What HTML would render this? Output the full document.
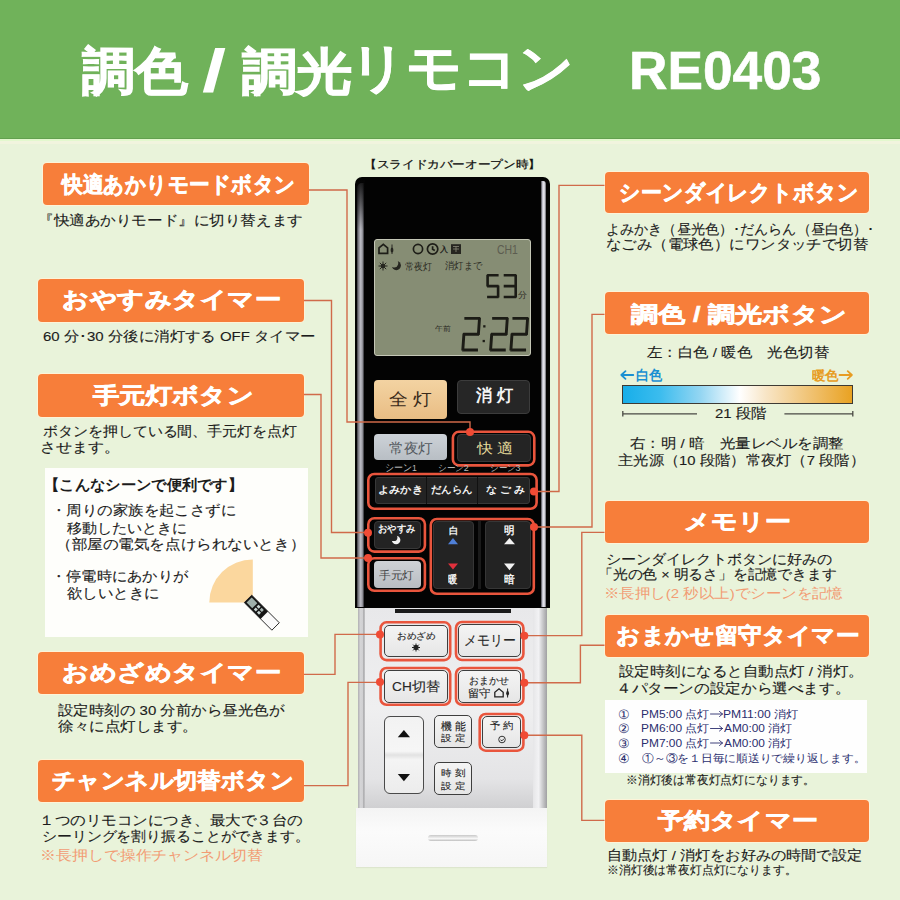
<!DOCTYPE html>
<html><head><meta charset="utf-8"><style>
html,body{margin:0;padding:0;}
body{width:900px;height:900px;overflow:hidden;position:relative;background:#e9f3da;font-family:"Liberation Sans",sans-serif;}
.t{position:absolute;line-height:1;white-space:pre;transform-origin:0 0;}
.a{position:absolute;box-sizing:border-box;}

.ob{background:#f77e3a;border-radius:4px;box-shadow:0 0 0 1px rgba(255,243,215,0.9);}
.btn{border-radius:5px;}

</style></head><body>
<div class="a" style="left:0px;top:0px;width:900.00px;height:139.00px;background:#70b25a;"></div>
<div class="a" style="left:0px;top:137.5px;width:900.00px;height:1.50px;background:#62a04f;"></div>
<div class="a" style="left:0px;top:139px;width:900.00px;height:2.40px;background:#e3f8ce;"></div>
<div class="a" style="left:0px;top:141.4px;width:900.00px;height:2.60px;background:#f1f4de;"></div>
<div class="a ob" style="left:38.3px;top:279.3px;width:265.70px;height:42.40px;"></div>
<div class="a ob" style="left:38.3px;top:374.3px;width:265.70px;height:42.40px;"></div>
<div class="a ob" style="left:38.3px;top:651.7px;width:265.70px;height:42.30px;"></div>
<div class="a ob" style="left:38.3px;top:760px;width:265.70px;height:41.70px;"></div>
<div class="a ob" style="left:43px;top:162.8px;width:265.80px;height:42.40px;"></div>
<div class="a ob" style="left:604.5px;top:171.7px;width:264.50px;height:41.80px;"></div>
<div class="a ob" style="left:604.5px;top:292.3px;width:264.50px;height:42.20px;"></div>
<div class="a ob" style="left:604.5px;top:500.7px;width:264.50px;height:42.00px;"></div>
<div class="a ob" style="left:604.5px;top:615px;width:264.50px;height:41.50px;"></div>
<div class="a ob" style="left:604.5px;top:800px;width:264.50px;height:41.70px;"></div>
<div class="a" style="left:44.7px;top:468px;width:263.10px;height:169.00px;background:#fefefb;"></div>
<div class="a" style="left:605px;top:700px;width:261.70px;height:73.30px;background:#fefefe;"></div>
<div class="a" style="left:621.7px;top:384.5px;width:231.80px;height:19.00px;background:linear-gradient(90deg,#17aee9 0%,#3bbcee 16%,#95d6f2 34%,#ffffff 51%,#f8e6c8 62%,#f0c272 82%,#e9a222 100%);border:1.2px solid #3e3a34;"></div>
<svg class="a" style="left:0;top:0" width="900" height="900" viewBox="0 0 900 900">
<g stroke="#4a4a44" stroke-width="1.3" fill="none">
<path d="M622.5 413.8H697M784.4 413.8H853M622.8 411V416.6M852.8 411V416.6"/>
</g></svg>
<svg class="a" style="left:0;top:0" width="900" height="900" viewBox="0 0 900 900">
<path d="M252.8 602.4 L209.3 602.4 A43.5 43 0 0 1 252.8 559.4 Z" fill="#fbd79e"/>
<g transform="translate(248,598.9) rotate(-45)">
<rect x="-5.25" y="0" width="10.5" height="39" fill="#fafafa" stroke="#222" stroke-width="0.9"/>
<rect x="-5.25" y="0" width="10.5" height="23" fill="#141414"/>
<rect x="-3.6" y="1.6" width="7.2" height="8" fill="#9fb0ab"/>
<rect x="-3.4" y="11.5" width="2.8" height="3" fill="#c9d6d3"/><rect x="0.6" y="11.5" width="2.8" height="3" fill="#c9d6d3"/>
<rect x="-3.4" y="16" width="2.8" height="3" fill="#c9d6d3"/><rect x="0.6" y="16" width="2.8" height="3" fill="#a9b6b3"/>
</g>
</svg>
<div class="a" style="left:355.3px;top:177px;width:194.70px;height:431.00px;background:#030303;border-radius:7px 7px 0 0;"></div>
<div class="a" style="left:357px;top:183px;width:7.00px;height:424.00px;background:linear-gradient(90deg,#3a3a40 0%,#8c8c94 25%,#b8b8c0 50%,#a0a0a8 75%,#2a2a2e 100%);border-radius:5px 0 0 0;"></div>
<div class="a" style="left:356.5px;top:180px;width:8.00px;height:50.00px;background:linear-gradient(180deg,rgba(5,5,5,0.92) 0%,rgba(5,5,5,0.5) 50%,rgba(5,5,5,0) 100%);border-radius:5px 0 0 0;"></div>
<div class="a" style="left:540.5px;top:181px;width:5.70px;height:426.00px;background:linear-gradient(90deg,#3a3a40 0%,#b8b8c4 25%,#e8e8f0 55%,#c0c0c8 80%,#4a4a50 100%);border-radius:0 3px 0 0;"></div>
<div class="a" style="left:373.7px;top:238.7px;width:157.70px;height:117.30px;background:#868d74;border:1.5px solid #c4c6b6;border-radius:3px;"></div>
<div class="a" style="left:374.4px;top:380px;width:72.30px;height:39.00px;background:linear-gradient(180deg,#f3d3a2,#e9bd84);border-radius:4px;"></div>
<div class="a" style="left:457px;top:380.4px;width:73.00px;height:33.60px;background:#262626;border:1px solid #3c3c3c;border-radius:4px;"></div>
<div class="a" style="left:374.4px;top:434.4px;width:72.60px;height:26.10px;background:linear-gradient(180deg,#cdd2d8,#b8bec4);border-radius:4px;"></div>
<div class="a" style="left:456.6px;top:434px;width:74.00px;height:27.70px;background:#242424;border:1px solid #383838;border-radius:4px;"></div>
<div class="a" style="left:375px;top:476.7px;width:155.00px;height:27.30px;background:#232323;border:1px solid #383838;border-radius:3px;"></div>
<div class="a" style="left:426px;top:477px;width:1.20px;height:26.50px;background:#111;"></div>
<div class="a" style="left:477px;top:477px;width:1.20px;height:26.50px;background:#111;"></div>
<div class="a" style="left:374px;top:520.5px;width:47.00px;height:28.50px;background:#232323;border:1px solid #383838;border-radius:4px;"></div>
<div class="a" style="left:374px;top:560.5px;width:47.00px;height:27.50px;background:linear-gradient(180deg,#cfd2d6,#b9bdc2);border-radius:4px;"></div>
<div class="a" style="left:432.5px;top:521px;width:41.50px;height:68.00px;background:#232323;border:1px solid #363636;border-radius:4px;"></div>
<div class="a" style="left:485px;top:521px;width:46.00px;height:68.00px;background:#232323;border:1px solid #363636;border-radius:4px;"></div>
<div class="a" style="left:478px;top:521px;width:3.00px;height:68.00px;background:#1a1a1a;"></div>
<div class="a" style="left:357.5px;top:607.5px;width:189.50px;height:201.00px;background:linear-gradient(180deg,#e8e8ea 0%,#efeff0 50%,#e4e4e6 85%,#cfcfd1 100%);"></div>
<div class="a" style="left:357.5px;top:607.5px;width:7.00px;height:201.00px;background:linear-gradient(90deg,#b0b0b2 0%,#d4d4d6 35%,#d0d0d2 70%,#9a9a9c 85%,#dcdcde 100%);"></div>
<div class="a" style="left:533px;top:607.5px;width:14.00px;height:201.00px;background:linear-gradient(90deg,#e6e6e8 0%,#f2f2f4 40%,#c8c8ca 70%,#a0a0a2 100%);"></div>
<div class="a" style="left:395px;top:608.5px;width:116.00px;height:4.50px;background:#1c1c1c;"></div>
<div class="a" style="left:384px;top:624.6px;width:63.80px;height:32.40px;background:linear-gradient(180deg,#f4f4f4,#e6e6e6);border:1.2px solid #3e3e3e;border-radius:5px;"></div>
<div class="a" style="left:458.4px;top:624px;width:62.60px;height:33.00px;background:linear-gradient(180deg,#f4f4f4,#e6e6e6);border:1.2px solid #3e3e3e;border-radius:5px;"></div>
<div class="a" style="left:384px;top:670px;width:63.80px;height:32.50px;background:linear-gradient(180deg,#f4f4f4,#e6e6e6);border:1.2px solid #3e3e3e;border-radius:5px;"></div>
<div class="a" style="left:458.4px;top:670px;width:62.60px;height:32.50px;background:linear-gradient(180deg,#f4f4f4,#e6e6e6);border:1.2px solid #3e3e3e;border-radius:5px;"></div>
<div class="a" style="left:384.4px;top:715.6px;width:39.50px;height:78.80px;background:linear-gradient(180deg,#f2f2f2 0%,#f6f6f6 45%,#e2e2e2 50%,#f4f4f4 56%,#ececec 100%);border:1px solid #4a4a4a;border-radius:6px;"></div>
<div class="a" style="left:434px;top:715.2px;width:38.00px;height:32.50px;background:linear-gradient(180deg,#f4f4f4,#e6e6e6);border:1.2px solid #3e3e3e;border-radius:5px;"></div>
<div class="a" style="left:482.3px;top:715.6px;width:38.70px;height:32.10px;background:linear-gradient(180deg,#f4f4f4,#e6e6e6);border:1.2px solid #3e3e3e;border-radius:5px;"></div>
<div class="a" style="left:434px;top:762px;width:38.00px;height:32.70px;background:linear-gradient(180deg,#f4f4f4,#e6e6e6);border:1.2px solid #3e3e3e;border-radius:5px;"></div>
<div class="a" style="left:356px;top:808.3px;width:190.70px;height:58.70px;background:linear-gradient(180deg,#f4f4f4 0%,#fbfbfb 40%,#f6f6f6 100%);box-shadow:0 1px 1px rgba(0,0,0,0.05);"></div>
<div class="a" style="left:428px;top:835px;width:50.00px;height:6.00px;background:linear-gradient(180deg,#c8c8c8,#f8f8f8 60%,#bdbdbd);border-radius:3px;"></div>
<svg class="a" style="left:0;top:0" width="900" height="900" viewBox="0 0 900 900">
<g fill="none" stroke="#d06a4a" stroke-width="1.4">
<path d="M308.8 190H347V422H470V431"/>
<path d="M304 300.5H331.5V532.5H368"/>
<path d="M304 394.5H321V558H368"/>
<path d="M304 674.4H335V634.4H380"/>
<path d="M304 785.6H348V682.4H380"/>
<path d="M604.5 185.4H559V491.5H534"/>
<path d="M604.5 314.4H592V527H534"/>
<path d="M604.5 532.4H581.8V635.6H524"/>
<path d="M604.5 645.3H580.4V682.7H524"/>
<path d="M604.5 820.4H581.8V735.2H524"/>
</g>
<g fill="none" stroke="#e9553d" stroke-width="2.6">
<rect x="452.9" y="431.8" width="81.4" height="33.6" rx="6"/>
<rect x="368.3" y="474" width="168.3" height="34.8" rx="6"/>
<rect x="368.3" y="518.2" width="56.6" height="33.4" rx="6"/>
<rect x="368.3" y="558.2" width="56.6" height="32.6" rx="6"/>
<rect x="430.8" y="519" width="103" height="74.8" rx="6"/>
<rect x="380.6" y="622.3" width="69.6" height="37.8" rx="6"/>
<rect x="456" y="622" width="67.4" height="38" rx="6"/>
<rect x="380.6" y="668" width="69.6" height="36.8" rx="6"/>
<rect x="456" y="668" width="67.4" height="36.8" rx="6"/>
<rect x="479.7" y="714" width="43.7" height="36.7" rx="6"/>
</g>
<g fill="#f04b35">
<circle cx="470" cy="432" r="4"/>
<circle cx="534" cy="491.5" r="4"/>
<circle cx="534" cy="527" r="4"/>
<circle cx="368" cy="532.8" r="4"/>
<circle cx="368" cy="558" r="4"/>
<circle cx="380" cy="634.4" r="4"/>
<circle cx="380" cy="682" r="4"/>
<circle cx="524.3" cy="635.7" r="4"/>
<circle cx="524.3" cy="682.8" r="4"/>
<circle cx="524.3" cy="735.2" r="4"/>
</g>
<g fill="none" stroke-width="1.8" stroke-linecap="round" stroke-linejoin="round">
<path d="M633.3 375H621.5M625.5 371.2L621.3 375L625.5 378.8" stroke="#1a90d2"/>
<path d="M839.5 375H851.7M847.7 371.2L851.9 375L847.7 378.8" stroke="#e79c22"/>
</g>
<g fill="none" stroke="#2b2e6e" stroke-width="0.9" stroke-linecap="round" stroke-linejoin="round">
<path d="M710.5 714H722.5M719.5 711.5L722.5 714L719.5 716.5"/>
<path d="M710.5 728.5H722.5M719.5 726L722.5 728.5L719.5 731"/>
<path d="M710.5 743H722.5M719.5 740.5L722.5 743L719.5 745.5"/>
</g>
<!-- triangles -->
<path d="M448 544.2H458L453 538Z" fill="#4f80d8"/>
<path d="M504 544.2H515L509.5 538Z" fill="#f2f2f2"/>
<path d="M448 563.5H458L453 569.5Z" fill="#e0303c"/>
<path d="M504 563.5H515L509.5 570.3Z" fill="#f2f2f2"/>
<path d="M397.8 737.2H410L403.9 730Z" fill="#111"/>
<path d="M397.8 774H410L403.9 781.2Z" fill="#111"/>
<!-- moon in oyasumi -->
<circle cx="396.1" cy="540" r="4.3" fill="#f2f2f2"/><circle cx="393.7" cy="537.4" r="3.7" fill="#232323"/>
<!-- sun in omezame -->
<g transform="translate(416,647.5)" stroke="#222" stroke-width="1"><circle r="2.2" fill="#222"/><path d="M-4 0H4M0 -4V4M-2.9 -2.9L2.9 2.9M-2.9 2.9L2.9 -2.9"/></g>
<!-- clock in yoyaku -->
<g transform="translate(502,739.5)" fill="none" stroke="#333" stroke-width="1"><circle r="3.3"/><path d="M-1.5 0.3L0 1.3L2 -0.8"/></g>
<!-- house + key in omakase -->
<g transform="translate(499,693)" fill="none" stroke="#222" stroke-width="1.3"><path d="M-4.2 3.8V-0.8L0 -4.2L4.2 -0.8V3.8Z"/></g>
<g transform="translate(507.6,693)" fill="#222"><ellipse cx="0" cy="0.3" rx="1.4" ry="2.4"/><rect x="-0.5" y="-4.5" width="1" height="9"/></g>
</svg>
<svg class="a" style="left:0;top:0" width="900" height="900" viewBox="0 0 900 900">
<g stroke="#1c1c16" fill="none" stroke-linecap="square">
<path d="M488.40 275.20L497.30 275.20M487.60 276.00L487.60 285.30M488.40 286.10L497.30 286.10M498.10 286.90L498.10 296.20M488.40 297.00L497.30 297.00M505.00 275.20L514.90 275.20M515.70 276.00L515.70 285.30M505.00 286.10L514.90 286.10M515.70 286.90L515.70 296.20M505.00 297.00L514.90 297.00" stroke-width="2.6"/>
<path d="M465.80 318.40L478.70 318.40M479.44 319.20L478.46 333.40M464.70 334.20L477.60 334.20M463.84 335.00L462.86 349.20M463.60 350.00L476.50 350.00M493.60 318.40L506.50 318.40M507.24 319.20L506.26 333.40M492.50 334.20L505.40 334.20M491.64 335.00L490.66 349.20M491.40 350.00L504.30 350.00M513.90 318.40L526.80 318.40M527.54 319.20L526.56 333.40M512.80 334.20L525.70 334.20M511.94 335.00L510.96 349.20M511.70 350.00L524.60 350.00" stroke-width="2.9"/>
</g>
<g fill="#1c1c16"><rect x="483.2" y="325.2" width="2.3" height="2.3"/><rect x="482.6" y="339.9" width="2.3" height="2.3"/></g>
<g fill="none" stroke="#1e1e18" stroke-width="1.7">
<path d="M379 253.4V247.8L383.3 244.3L387.6 247.8V253.4Z"/>
<circle cx="418" cy="249" r="4.6"/>
<circle cx="432.6" cy="249" r="5.2"/>
<path d="M432.6 246.3V249.2L434.8 250.4"/>
</g>
<g fill="#262620">
<ellipse cx="392" cy="250" rx="1.4" ry="2.6"/><rect x="391.5" y="244.5" width="1" height="9.5"/>
<rect x="451" y="244.2" width="10" height="9.8"/>
<circle cx="383" cy="266" r="2.3"/>
<circle cx="396.3" cy="265.6" r="4.6"/><circle cx="394" cy="263.1" r="4.3" fill="#868d74"/>
</g>
<g stroke="#262620" stroke-width="1"><path d="M378.5 266H387.5M383 261.5V270.5M379.8 262.8L386.2 269.2M379.8 269.2L386.2 262.8"/></g>
<g fill="none" stroke="#8a8a7a" stroke-width="0.8"><path d="M453 246.5H459M453 249H459M456 246.5V252"/></g>
</svg>
<div class="t" style="left:81.70px;top:47.35px;font-size:50.5px;color:#fff;font-weight:bold;transform:scaleX(1.035);-webkit-text-stroke:1.2px;">調色</div>
<div class="t" style="left:201.85px;top:41.30px;font-size:60.0px;color:#fff;font-weight:bold;transform:scaleX(1.447);">/</div>
<div class="t" style="left:241.70px;top:46.85px;font-size:50.0px;color:#fff;font-weight:bold;transform:scaleX(1.100);-webkit-text-stroke:1.2px;">調光</div>
<div class="t" style="left:350.30px;top:41.35px;font-size:53.0px;color:#fff;font-weight:bold;transform:scaleX(1.036);-webkit-text-stroke:0.6px;">リモコン</div>
<div class="t" style="left:629.01px;top:44.00px;font-size:53.24px;color:#fff;font-weight:bold;-webkit-text-stroke:0.6px;">RE0403</div>
<div class="t" style="left:61.87px;top:173.75px;font-size:22px;color:#fff;font-weight:bold;transform:scaleX(0.936);-webkit-text-stroke:0.6px;">快適あかりモードボタン</div>
<div class="t" style="left:62.10px;top:289.35px;font-size:22px;color:#fff;font-weight:bold;transform:scaleX(1.197);-webkit-text-stroke:0.6px;">おやすみタイマー</div>
<div class="t" style="left:92.89px;top:385.35px;font-size:22px;color:#fff;font-weight:bold;transform:scaleX(1.194);-webkit-text-stroke:0.6px;">手元灯ボタン</div>
<div class="t" style="left:62.10px;top:661.50px;font-size:22px;color:#fff;font-weight:bold;transform:scaleX(1.197);-webkit-text-stroke:0.6px;">おめざめタイマー</div>
<div class="t" style="left:51.70px;top:770.35px;font-size:22px;color:#fff;font-weight:bold;transform:scaleX(1.062);-webkit-text-stroke:0.6px;">チャンネル切替ボタン</div>
<div class="t" style="left:619.05px;top:182.00px;font-size:22px;color:#fff;font-weight:bold;transform:scaleX(0.951);-webkit-text-stroke:0.6px;">シーンダイレクトボタン</div>
<div class="t" style="left:631.24px;top:303.50px;font-size:22px;color:#fff;font-weight:bold;transform:scaleX(1.236);-webkit-text-stroke:0.6px;">調色 / 調光ボタン</div>
<div class="t" style="left:683.82px;top:511.00px;font-size:22px;color:#fff;font-weight:bold;transform:scaleX(1.180);-webkit-text-stroke:0.6px;">メモリー</div>
<div class="t" style="left:615.63px;top:625.35px;font-size:22px;color:#fff;font-weight:bold;transform:scaleX(1.074);-webkit-text-stroke:0.6px;">おまかせ留守タイマー</div>
<div class="t" style="left:657.89px;top:810.35px;font-size:22px;color:#fff;font-weight:bold;transform:scaleX(1.185);-webkit-text-stroke:0.6px;">予約タイマー</div>
<div class="t" style="left:37.80px;top:214.20px;font-size:13.6px;color:#1c1c1c;transform:scaleX(1.112);-webkit-text-stroke:0.12px;">『快適あかりモード』に切り替えます</div>
<div class="t" style="left:42.70px;top:330.00px;font-size:13.6px;color:#1c1c1c;transform:scaleX(1.102);-webkit-text-stroke:0.12px;">60 分･30 分後に消灯する OFF タイマー</div>
<div class="t" style="left:42.70px;top:425.15px;font-size:13.6px;color:#1c1c1c;transform:scaleX(1.067);-webkit-text-stroke:0.12px;">ボタンを押している間、手元灯を点灯</div>
<div class="t" style="left:40.42px;top:441.35px;font-size:13.6px;color:#1c1c1c;transform:scaleX(1.141);-webkit-text-stroke:0.12px;">させます。</div>
<div class="t" style="left:43.51px;top:478.00px;font-size:14.5px;color:#1c1c1c;font-weight:bold;transform:scaleX(1.021);">【こんなシーンで便利です】</div>
<div class="t" style="left:50.99px;top:504.25px;font-size:13.6px;color:#1c1c1c;transform:scaleX(1.102);-webkit-text-stroke:0.12px;">・周りの家族を起こさずに</div>
<div class="t" style="left:67.30px;top:521.90px;font-size:13.6px;color:#1c1c1c;transform:scaleX(1.075);-webkit-text-stroke:0.12px;">移動したいときに</div>
<div class="t" style="left:55.59px;top:538.20px;font-size:13.6px;color:#1c1c1c;transform:scaleX(1.112);-webkit-text-stroke:0.12px;">（部屋の電気を点けられないとき）</div>
<div class="t" style="left:51.08px;top:570.45px;font-size:13.6px;color:#1c1c1c;transform:scaleX(1.087);-webkit-text-stroke:0.12px;">・停電時にあかりが</div>
<div class="t" style="left:67.30px;top:586.85px;font-size:13.6px;color:#1c1c1c;transform:scaleX(1.105);-webkit-text-stroke:0.12px;">欲しいときに</div>
<div class="t" style="left:58.30px;top:704.00px;font-size:13.6px;color:#1c1c1c;transform:scaleX(1.106);-webkit-text-stroke:0.12px;">設定時刻の 30 分前から昼光色が</div>
<div class="t" style="left:58.30px;top:720.15px;font-size:13.6px;color:#1c1c1c;transform:scaleX(1.111);-webkit-text-stroke:0.12px;">徐々に点灯します。</div>
<div class="t" style="left:39.37px;top:813.50px;font-size:13.6px;color:#1c1c1c;transform:scaleX(1.109);-webkit-text-stroke:0.12px;">１つのリモコンにつき、最大で３台の</div>
<div class="t" style="left:41.64px;top:830.15px;font-size:13.6px;color:#1c1c1c;transform:scaleX(1.063);-webkit-text-stroke:0.12px;">シーリングを割り振ることができます。</div>
<div class="t" style="left:40.43px;top:849.00px;font-size:13.6px;color:#f29c74;transform:scaleX(1.137);">※長押しで操作チャンネル切替</div>
<div class="t" style="left:605.69px;top:222.50px;font-size:13.6px;color:#1c1c1c;transform:scaleX(1.008);-webkit-text-stroke:0.12px;">よみかき（昼光色）･だんらん（昼白色）･</div>
<div class="t" style="left:605.60px;top:238.35px;font-size:13.6px;color:#1c1c1c;transform:scaleX(1.101);-webkit-text-stroke:0.12px;">なごみ（電球色）にワンタッチで切替</div>
<div class="t" style="left:646.70px;top:345.65px;font-size:13.6px;color:#1c1c1c;transform:scaleX(1.101);-webkit-text-stroke:0.12px;">左：白色 / 暖色　光色切替</div>
<div class="t" style="left:636.00px;top:368.35px;font-size:14.0px;color:#1a90d2;font-weight:bold;transform:scaleX(0.939);">白色</div>
<div class="t" style="left:811.70px;top:368.85px;font-size:13.43px;color:#e79c22;font-weight:bold;transform:scaleX(1.038);">暖色</div>
<div class="t" style="left:715.00px;top:407.35px;font-size:13.6px;color:#1c1c1c;transform:scaleX(1.100);-webkit-text-stroke:0.12px;">21 段階</div>
<div class="t" style="left:630.00px;top:436.85px;font-size:13.6px;color:#1c1c1c;transform:scaleX(1.105);-webkit-text-stroke:0.12px;">右：明 / 暗　光量レベルを調整</div>
<div class="t" style="left:618.30px;top:453.50px;font-size:13.6px;color:#1c1c1c;transform:scaleX(1.091);-webkit-text-stroke:0.12px;">主光源（10 段階）常夜灯（7 段階）</div>
<div class="t" style="left:605.62px;top:552.50px;font-size:13.6px;color:#1c1c1c;transform:scaleX(1.077);-webkit-text-stroke:0.12px;">シーンダイレクトボタンに好みの</div>
<div class="t" style="left:598.24px;top:568.35px;font-size:13.6px;color:#1c1c1c;transform:scaleX(1.057);-webkit-text-stroke:0.12px;">「光の色 × 明るさ」を記憶できます</div>
<div class="t" style="left:604.49px;top:586.85px;font-size:13.6px;color:#f29c74;transform:scaleX(1.104);">※長押し(2 秒以上)でシーンを記憶</div>
<div class="t" style="left:619.00px;top:665.15px;font-size:13.6px;color:#1c1c1c;transform:scaleX(1.105);-webkit-text-stroke:0.12px;">設定時刻になると自動点灯 / 消灯。</div>
<div class="t" style="left:615.65px;top:681.85px;font-size:13.6px;color:#1c1c1c;transform:scaleX(1.116);-webkit-text-stroke:0.12px;">４パターンの設定から選べます。</div>
<div class="t" style="left:617.70px;top:707.90px;font-size:13.33px;color:#2b2e6e;">①</div>
<div class="t" style="left:617.70px;top:722.30px;font-size:13.33px;color:#2b2e6e;">②</div>
<div class="t" style="left:617.70px;top:736.80px;font-size:13.33px;color:#2b2e6e;">③</div>
<div class="t" style="left:617.70px;top:751.80px;font-size:13.33px;color:#2b2e6e;">④</div>
<div class="t" style="left:640.91px;top:708.50px;font-size:11px;color:#2b2e6e;transform:scaleX(1.085);">PM5:00 点灯</div>
<div class="t" style="left:722.50px;top:708.50px;font-size:11px;color:#2b2e6e;transform:scaleX(1.104);">PM11:00 消灯</div>
<div class="t" style="left:640.91px;top:723.00px;font-size:11px;color:#2b2e6e;transform:scaleX(1.085);">PM6:00 点灯</div>
<div class="t" style="left:723.60px;top:723.00px;font-size:11px;color:#2b2e6e;transform:scaleX(1.079);">AM0:00 消灯</div>
<div class="t" style="left:640.91px;top:737.50px;font-size:11px;color:#2b2e6e;transform:scaleX(1.085);">PM7:00 点灯</div>
<div class="t" style="left:723.60px;top:737.50px;font-size:11px;color:#2b2e6e;transform:scaleX(1.079);">AM0:00 消灯</div>
<div class="t" style="left:642.00px;top:752.80px;font-size:11px;color:#2b2e6e;transform:scaleX(1.069);">①～③を１日毎に順送りで繰り返します。</div>
<div class="t" style="left:625.72px;top:774.35px;font-size:12px;color:#1c1c1c;transform:scaleX(0.984);-webkit-text-stroke:0.1px;">※消灯後は常夜灯点灯になります。</div>
<div class="t" style="left:606.62px;top:848.50px;font-size:13.6px;color:#1c1c1c;transform:scaleX(1.083);-webkit-text-stroke:0.12px;">自動点灯 / 消灯をお好みの時間で設定</div>
<div class="t" style="left:606.71px;top:864.35px;font-size:12px;color:#1c1c1c;transform:scaleX(0.987);-webkit-text-stroke:0.1px;">※消灯後は常夜灯点灯になります。</div>
<div class="t" style="left:364.11px;top:158.90px;font-size:11px;color:#111;transform:scaleX(1.148);-webkit-text-stroke:0.25px;">【スライドカバーオープン時】</div>
<div class="t" style="left:389.00px;top:390.60px;font-size:17.23px;color:#3a2a1a;transform:scaleX(1.103);">全 灯</div>
<div class="t" style="left:475.60px;top:387.75px;font-size:16.67px;color:#f4f4f4;font-weight:bold;transform:scaleX(0.954);">消 灯</div>
<div class="t" style="left:389.40px;top:441.70px;font-size:13.81px;color:#555a60;transform:scaleX(1.045);">常夜灯</div>
<div class="t" style="left:477.13px;top:441.00px;font-size:14.29px;color:#e6dc9c;transform:scaleX(1.131);">快 適</div>
<div class="t" style="left:385.20px;top:463.45px;font-size:9.62px;color:#b8b8b8;transform:scaleX(0.900);">シーン1</div>
<div class="t" style="left:438.04px;top:462.95px;font-size:9.49px;color:#b8b8b8;transform:scaleX(0.958);">シーン2</div>
<div class="t" style="left:490.35px;top:462.95px;font-size:9.49px;color:#b8b8b8;transform:scaleX(0.948);">シーン3</div>
<div class="t" style="left:377.88px;top:484.70px;font-size:10.0px;color:#f4f4f4;font-weight:bold;transform:scaleX(1.122);">よみかき</div>
<div class="t" style="left:431.30px;top:484.70px;font-size:10.22px;color:#f4f4f4;font-weight:bold;transform:scaleX(1.035);">だんらん</div>
<div class="t" style="left:485.60px;top:484.70px;font-size:9.69px;color:#f4f4f4;font-weight:bold;transform:scaleX(1.094);">な ご み</div>
<div class="t" style="left:377.80px;top:524.40px;font-size:10.31px;color:#f4f4f4;font-weight:bold;transform:scaleX(0.930);">おやすみ</div>
<div class="t" style="left:448.50px;top:526.05px;font-size:10.11px;color:#f4f4f4;font-weight:bold;transform:scaleX(0.944);">白</div>
<div class="t" style="left:504.00px;top:524.55px;font-size:11.17px;color:#f4f4f4;font-weight:bold;transform:scaleX(0.955);">明</div>
<div class="t" style="left:447.70px;top:573.65px;font-size:10.81px;color:#f4f4f4;font-weight:bold;transform:scaleX(0.845);">暖</div>
<div class="t" style="left:503.70px;top:573.65px;font-size:10.59px;color:#f4f4f4;font-weight:bold;transform:scaleX(0.991);">暗</div>
<div class="t" style="left:379.00px;top:569.85px;font-size:11.15px;color:#444;transform:scaleX(1.061);">手元灯</div>
<div class="t" style="left:397.00px;top:632.30px;font-size:8.9px;color:#262626;transform:scaleX(1.072);-webkit-text-stroke:0.12px;">おめざめ</div>
<div class="t" style="left:463.88px;top:633.50px;font-size:13.81px;color:#262626;transform:scaleX(0.922);-webkit-text-stroke:0.12px;">メモリー</div>
<div class="t" style="left:391.70px;top:681.00px;font-size:12.53px;color:#262626;transform:scaleX(1.095);-webkit-text-stroke:0.12px;">CH切替</div>
<div class="t" style="left:468.51px;top:675.90px;font-size:10.43px;color:#262626;transform:scaleX(0.995);-webkit-text-stroke:0.12px;">おまかせ</div>
<div class="t" style="left:468.47px;top:688.00px;font-size:10.8px;color:#262626;transform:scaleX(1.033);-webkit-text-stroke:0.12px;">留守</div>
<div class="t" style="left:440.80px;top:720.50px;font-size:10.51px;color:#262626;transform:scaleX(0.984);-webkit-text-stroke:0.12px;">機 能</div>
<div class="t" style="left:440.80px;top:733.90px;font-size:9.37px;color:#262626;transform:scaleX(1.171);-webkit-text-stroke:0.12px;">設 定</div>
<div class="t" style="left:490.00px;top:720.65px;font-size:9.87px;color:#262626;transform:scaleX(1.035);-webkit-text-stroke:0.12px;">予 約</div>
<div class="t" style="left:440.80px;top:769.15px;font-size:9.37px;color:#262626;transform:scaleX(1.171);-webkit-text-stroke:0.12px;">時 刻</div>
<div class="t" style="left:440.80px;top:781.65px;font-size:9.27px;color:#262626;transform:scaleX(1.171);-webkit-text-stroke:0.12px;">設 定</div>
<div class="t" style="left:405.00px;top:261.65px;font-size:9.59px;color:#2c2c24;transform:scaleX(0.900);">常夜灯</div>
<div class="t" style="left:445.00px;top:261.15px;font-size:9.59px;color:#2c2c24;transform:scaleX(0.925);">消灯まで</div>
<div class="t" style="left:435.00px;top:325.00px;font-size:7.45px;color:#2c2c24;transform:scaleX(1.121);">午前</div>
<div class="t" style="left:518.00px;top:291.00px;font-size:8.51px;color:#2c2c24;">分</div>
<div class="t" style="left:440.00px;top:245.25px;font-size:8.33px;color:#22221c;font-weight:bold;">入</div>
<div class="t" style="left:496.50px;top:242.75px;font-size:13.38px;color:#5c5c50;transform:scaleX(0.781);">CH1</div>
</body></html>
